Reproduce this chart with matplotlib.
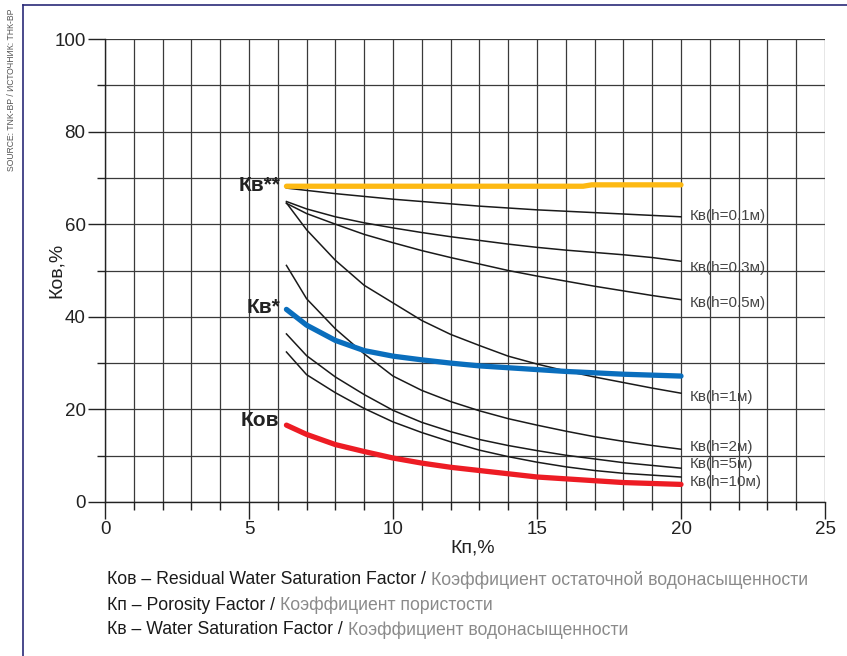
import matplotlib
matplotlib.use('Agg')
import matplotlib.pyplot as plt
from matplotlib.lines import Line2D

plt.rcParams['font.family'] = ['Liberation Sans', 'DejaVu Sans']

# porosity grid (Kп, %) where the curves were read
kp = [6.3, 7, 8, 9, 10, 11, 12, 13, 14, 15, 16, 17, 18, 19, 20]

kv_01 = [67.8, 67.3, 66.6, 66.0, 65.4, 64.9, 64.4, 63.9, 63.5, 63.1, 62.8, 62.5, 62.2, 61.9, 61.6]
kv_03 = [64.9, 63.3, 61.6, 60.3, 59.2, 58.2, 57.3, 56.5, 55.7, 55.0, 54.4, 53.9, 53.4, 52.8, 52.0]
kv_05 = [64.5, 62.3, 60.0, 57.8, 56.0, 54.3, 52.8, 51.4, 50.0, 48.8, 47.7, 46.6, 45.6, 44.6, 43.7]
kv_1 = [64.6, 58.8, 52.2, 46.8, 43.0, 39.2, 36.2, 33.8, 31.5, 29.8, 28.3, 27.0, 25.8, 24.6, 23.5]
kv_2 = [51.1, 43.9, 37.4, 32.0, 27.2, 24.1, 21.7, 19.7, 18.0, 16.6, 15.3, 14.1, 13.1, 12.2, 11.4]
kv_5 = [36.3, 31.6, 27.0, 23.2, 19.8, 17.2, 15.2, 13.5, 12.2, 11.1, 10.1, 9.3, 8.5, 7.9, 7.3]
kv_10 = [32.4, 27.5, 23.6, 20.2, 17.3, 15.0, 13.0, 11.2, 9.8, 8.6, 7.6, 6.8, 6.2, 5.8, 5.4]

kv_star = [41.6, 38.2, 34.9, 32.7, 31.5, 30.7, 30.0, 29.4, 29.0, 28.6, 28.2, 27.9, 27.6, 27.4, 27.2]
kov = [16.6, 14.6, 12.4, 10.9, 9.5, 8.4, 7.5, 6.8, 6.1, 5.4, 5.0, 4.6, 4.2, 4.0, 3.8]

kp_2star = [6.3, 10, 14, 16.6, 16.9, 20]
kv_2star = [68.2, 68.2, 68.2, 68.2, 68.5, 68.5]

h_labels = ['Кв(h=0.1м)', 'Кв(h=0.3м)', 'Кв(h=0.5м)', 'Кв(h=1м)',
            'Кв(h=2м)', 'Кв(h=5м)', 'Кв(h=10м)']
h_label_y = [61.8, 50.6, 43.0, 22.7, 11.9, 8.2, 4.3]

fig = plt.figure(figsize=(8.47, 6.56), dpi=100)
ax = fig.add_axes([105/847, 1 - 502/656, 720/847, 463/656])
ax.set_xlim(0, 25)
ax.set_ylim(0, 100)
ax.set_xticks(range(0, 26, 5))
ax.set_xticks(range(0, 26), minor=True)
ax.set_yticks(range(0, 101, 20))
ax.set_yticks(range(0, 101, 10), minor=True)
ax.grid(which='both', color='#3a3a3a', linewidth=0.9)
ax.set_axisbelow(True)
for s in ['top', 'right']:
    ax.spines[s].set_visible(False)
for s in ['left', 'bottom']:
    ax.spines[s].set_color('#222222')
    ax.spines[s].set_linewidth(1)
ax.tick_params(which='major', length=12, width=1, color='#222222', labelsize=13.5,
               labelcolor='#222222', pad=2)
ax.tick_params(which='minor', length=6, width=1, color='#222222')

black = [kv_01, kv_03, kv_05, kv_1, kv_2, kv_5, kv_10]
for vals in black:
    ax.plot(kp, vals, color='#1a1a1a', linewidth=1.1)

ax.plot(kp_2star, kv_2star, color='#FDB913', linewidth=3.8, solid_capstyle='round')
ax.plot(kp, kv_star, color='#0A6EBD', linewidth=3.8, solid_capstyle='round')
ax.plot(kp, kov, color='#ED1C24', linewidth=3.8, solid_capstyle='round')

for lab, yv in zip(h_labels, h_label_y):
    ax.text(20.3, yv, lab, ha='left', va='center', fontsize=11, color='#444444')

ax.text(6.1, 68.3, 'Кв**', ha='right', va='center', fontsize=15, fontweight='bold',
        color='#222222')
ax.text(6.1, 42.1, 'Кв*', ha='right', va='center', fontsize=15, fontweight='bold',
        color='#222222')
ax.text(6.05, 17.5, 'Ков', ha='right', va='center', fontsize=15, fontweight='bold',
        color='#222222')

ax.set_ylabel('Ков,%', fontsize=14, color='#222222')
ax.yaxis.set_label_coords(-40/720, 0.5)
ax.set_xlabel('Кп,%', fontsize=14, color='#222222')
ax.xaxis.set_label_coords(0.51, -0.08)

# footer legend lines: black english part + gray russian part
footer_en = ['Ков – Residual Water Saturation Factor / ',
             'Кп – Porosity Factor / ',
             'Кв – Water Saturation Factor / ']
footer_ru = ['Коэффициент остаточной водонасыщенности',
             'Коэффициент пористости',
             'Коэффициент водонасыщенности']
footer_y = [580, 605, 630]
for en, ru, py in zip(footer_en, footer_ru, footer_y):
    t = fig.text(107/847, 1 - py/656, en, ha='left', va='center', fontsize=12.7,
                 color='#1a1a1a')
    ax.annotate(ru, xy=(1, 0.5), xycoords=t, ha='left', va='center',
                fontsize=12.7, color='#8a8a8a', annotation_clip=False)

fig.text(12/847, 1 - 90/656, 'SOURCE: TNK-BP / ИСТОЧНИК: ТНК-ВР', rotation=90,
         ha='center', va='center', fontsize=6.2, color='#555555')

# frame lines (top and left)
fig.add_artist(Line2D([23/847, 23/847], [0, 1 - 5/656], color='#2a2a78', linewidth=1.2))
fig.add_artist(Line2D([23/847, 1], [1 - 5/656, 1 - 5/656], color='#2a2a78', linewidth=1.2))

fig.savefig('out.png', dpi=100)
